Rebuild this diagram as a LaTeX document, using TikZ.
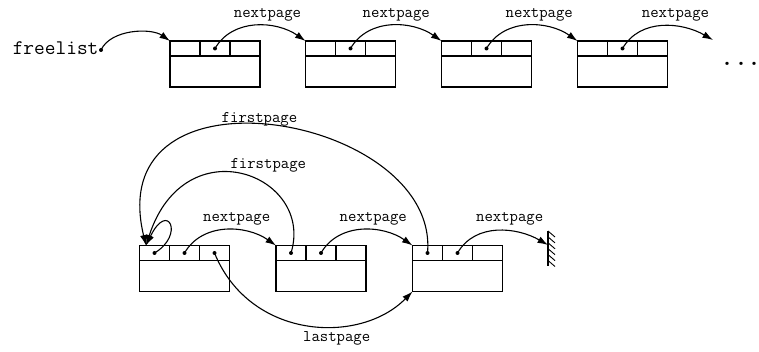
\documentclass[tikz,border=0pt]{standalone}
\usepackage{fontspec}
\usetikzlibrary{arrows.meta}

% A page record: a frame with a row of three small cells on top.
% Defines NAME-a, NAME-b, NAME-c at the centres of the three cells.
\newcommand\pagerecord[3]{%
  \node[pageframe] (#1) at (#2,#3) {};
  \draw ([yshift=-15pt]#1.north west) -- ([yshift=-15pt]#1.north east);
  \draw ([xshift=30pt]#1.north west) -- ([xshift=30pt,yshift=-15pt]#1.north west);
  \draw ([xshift=60pt]#1.north west) -- ([xshift=60pt,yshift=-15pt]#1.north west);
  \coordinate (#1-a) at ([xshift=15pt,yshift=-7.5pt]#1.north west);
  \coordinate (#1-b) at ([xshift=45pt,yshift=-7.5pt]#1.north west);
  \coordinate (#1-c) at ([xshift=75pt,yshift=-7.5pt]#1.north west);
}
\newcommand\ptrdot[1]{\fill (#1) circle (2pt);}

\begin{document}
\begin{tikzpicture}[x=1pt,y=1pt,line width=1.1pt,
  pageframe/.style={draw,rectangle,anchor=north west,minimum width=90pt,
    minimum height=46pt,inner sep=0pt,outer sep=0pt},
  link/.style={-{Latex[length=10.5pt,width=7pt]}},
  lbl/.style={font=\fontsize{16.3}{18}\selectfont\ttfamily,inner sep=0pt,anchor=base},
]
\useasboundingbox (0,0) rectangle (759,-352);

% ---------- free list ----------
\node[font=\fontsize{20.8}{24}\selectfont\ttfamily,inner sep=0pt,anchor=base east]
  (freelist) at (99,-55) {freelist};
\coordinate (fl) at (101,-50);
\ptrdot{fl}

\pagerecord{f1}{170}{-41}
\pagerecord{f2}{305.5}{-41}
\pagerecord{f3}{441.5}{-41}
\pagerecord{f4}{577.5}{-41}
\coordinate (more) at (713,-40);

\draw[link] (fl) to[out=65,in=145,looseness=0.85] (f1.north west);
\foreach \s/\t in {f1/f2,f2/f3,f3/f4}{
  \ptrdot{\s-b}
  \draw[link] (\s-b) to[out=60,in=145] (\t.north west);
}
\ptrdot{f4-b}
\draw[link] (f4-b) to[out=60,in=150] (more);

\node[lbl] (nx1) at (267.5,-17.5) {nextpage};
\node[lbl] (nx2) at (396.3,-17.5) {nextpage};
\node[lbl] (nx3) at (539.3,-17.5) {nextpage};
\node[lbl] (nx4) at (675.5,-17.5) {nextpage};

% continuation marks
\node[font=\fontsize{40}{40}\selectfont,inner sep=0pt,anchor=base west]
  (dots) at (722.4,-65.3) {.\kern3.2pt.\kern3.2pt.};

% ---------- a used-page chain ----------
\pagerecord{g1}{139.5}{-245.5}
\pagerecord{g2}{276}{-245.5}
\pagerecord{g3}{412.5}{-245.5}
\coordinate (g1-head) at ([xshift=6.5pt]g1.north west);

% terminating ground
\coordinate (ground) at (548,-245);
\draw (548,-231) -- (548,-266.5);
\foreach \k in {0,...,5}{
  \draw[line width=0.9pt] (548,-231-\k*5.9) -- ++(7,-6);
}

\foreach \p in {g1-a,g1-b,g1-c,g2-a,g2-b,g3-a,g3-b}{\ptrdot{\p}}

% first-page pointers
\draw[link] (g1-a) .. controls (185,-235) and (168,-200) .. (g1-head);
\draw[link] (g2-a) .. controls (315,-175) and (185,-125) .. (g1-head);
\draw[link] (g3-a) .. controls (440,-115) and (100,-55) .. (g1-head);

% next-page pointers
\draw[link] (g1-b) to[out=60,in=145] (g2.north west);
\draw[link] (g2-b) to[out=60,in=145] (g3.north west);
\draw[link] (g3-b) to[out=60,in=150] (ground);

% last-page pointer
\draw[link] (g1-c) .. controls (250,-340) and (360,-345) .. (g3.south west);

\node[lbl] (fp1) at (259.5,-123) {firstpage};
\node[lbl] (fp2) at (268.3,-168.5) {firstpage};
\node[lbl] (ny1) at (236.7,-221.5) {nextpage};
\node[lbl] (ny2) at (373.3,-221.5) {nextpage};
\node[lbl] (ny3) at (509.7,-221.5) {nextpage};
\node[lbl] (lp) at (336.7,-341.5) {lastpage};
\end{tikzpicture}
\end{document}
